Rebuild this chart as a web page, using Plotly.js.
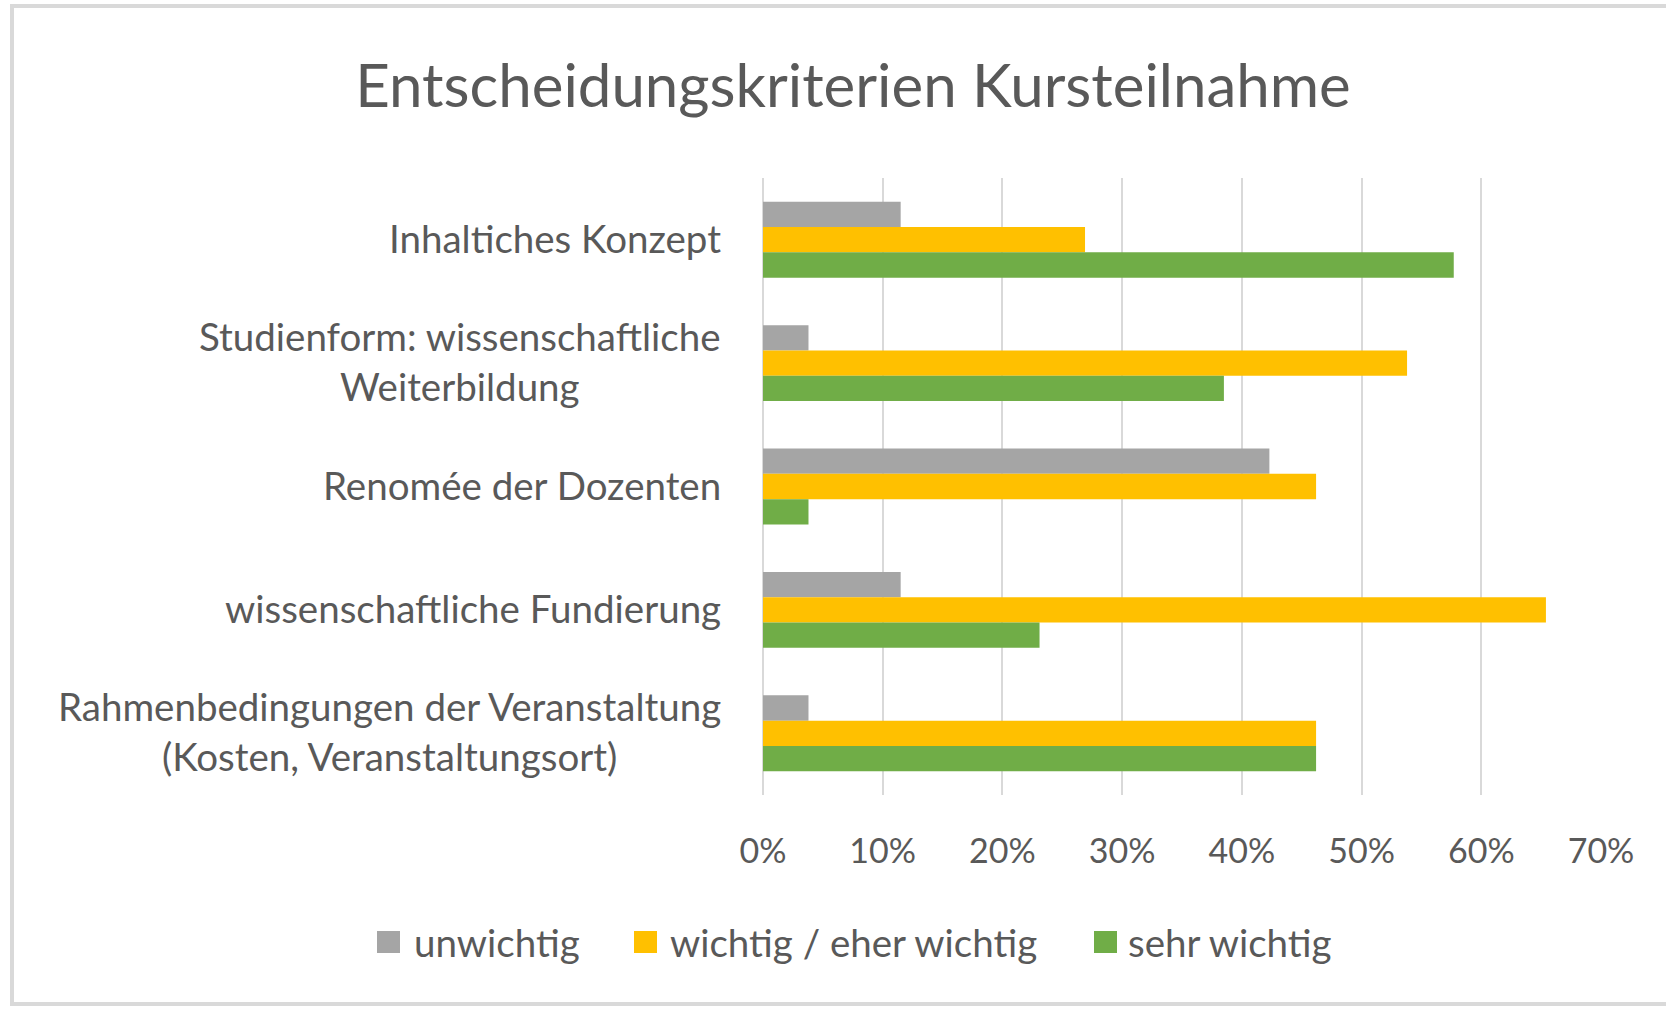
<!DOCTYPE html>
<html>
<head>
<meta charset="utf-8">
<script src="https://cdn.plot.ly/plotly-3.0.1.min.js"></script>
<style>
  html, body { margin: 0; padding: 0; background: #ffffff; }
  #wrap { position: relative; width: 1666px; height: 1011px; }
  #chart { width: 1666px; height: 1011px; }
  #frame { position: absolute; left: 10px; top: 4px; width: 1670px; height: 1002px;
           border: 4px solid #d9d9d9; box-sizing: border-box; pointer-events: none; }
</style>
</head>
<body>
<div id="wrap">
  <div id="chart"></div>
  <div id="frame"></div>
</div>
<script>
// ---- data ----
const categories = [
  "Inhaltiches Konzept",
  "Studienform: wissenschaftliche<br>Weiterbildung",
  "Renomée der Dozenten",
  "wissenschaftliche Fundierung",
  "Rahmenbedingungen der Veranstaltung<br>(Kosten, Veranstaltungsort)"
];
const seriesNames = ["unwichtig", "wichtig / eher wichtig", "sehr wichtig"];
const unwichtig = [0.115, 0.038, 0.423, 0.115, 0.038];
const wichtig = [0.269, 0.538, 0.462, 0.654, 0.462];
const sehrWichtig = [0.577, 0.385, 0.038, 0.231, 0.462];
const tickValues = [0, 0.1, 0.2, 0.3, 0.4, 0.5, 0.6, 0.7];
const tickLabels = ["0%", "10%", "20%", "30%", "40%", "50%", "60%", "70%"];
const chartTitle = "Entscheidungskriterien Kursteilnahme";

// ---- styling ----
const colors = ["#A5A5A5", "#FFC000", "#70AD47"];
const textColor = "#595959";
const fontFamily = "Lato, 'Open Sans', sans-serif";
const seriesValues = [unwichtig, wichtig, sehrWichtig];

// plot area geometry (px)
const W = 1666, H = 1011;
const M = { l: 763, r: 65, t: 178, b: 216 };
const PW = W - M.l - M.r, PH = H - M.t - M.b;
const px2x = px => (px - M.l) / PW;
const py2y = py => (H - M.b - py) / PH;

const traces = seriesValues.map((vals, i) => ({
  type: "bar",
  orientation: "h",
  name: seriesNames[i],
  x: vals,
  y: categories,
  marker: { color: colors[i], line: { width: 0 } },
  hoverinfo: "x+name",
  showlegend: false
}));

const annotations = categories.map(c => ({
  xref: "paper", yref: "y",
  x: 0, y: c,
  xanchor: "right", yanchor: "middle",
  xshift: -40, yshift: 2,
  align: "center",
  showarrow: false,
  text: c,
  font: { family: fontFamily, size: 38.5, color: textColor }
}));

// custom legend (larger swatches like the original)
const legendSwatchLeft = [377, 634, 1094];
const legendTextLeft = [412, 668, 1126];
const legendY = 942;
const shapes = [];
seriesNames.forEach((n, i) => {
  shapes.push({
    type: "rect", xref: "paper", yref: "paper",
    x0: px2x(legendSwatchLeft[i]), x1: px2x(legendSwatchLeft[i] + 23),
    y0: py2y(legendY - 11), y1: py2y(legendY + 11),
    fillcolor: colors[i], line: { width: 0 }
  });
  annotations.push({
    xref: "paper", yref: "paper",
    x: px2x(legendTextLeft[i]), y: py2y(legendY),
    xanchor: "left", yanchor: "middle",
    showarrow: false,
    text: n,
    font: { family: fontFamily, size: 38.5, color: textColor }
  });
});

const layout = {
  width: W, height: H,
  margin: M,
  paper_bgcolor: "#ffffff",
  plot_bgcolor: "#ffffff",
  barmode: "group",
  bargap: 0.385,
  bargroupgap: 0,
  showlegend: false,
  title: {
    text: chartTitle,
    xref: "container", yref: "container",
    x: 853 / W, xanchor: "center",
    y: 1 - 86 / H, yanchor: "middle",
    font: { family: fontFamily, size: 60, color: textColor }
  },
  xaxis: {
    range: [0, 0.7],
    tickvals: tickValues,
    ticktext: tickLabels,
    showgrid: true,
    gridcolor: "#d9d9d9",
    gridwidth: 2,
    zeroline: true,
    zerolinecolor: "#d9d9d9",
    zerolinewidth: 2,
    showline: false,
    ticks: "",
    ticklabelstandoff: 33,
    tickfont: { family: fontFamily, size: 34, color: textColor },
    fixedrange: true
  },
  yaxis: {
    type: "category",
    autorange: "reversed",
    showticklabels: false,
    showgrid: false,
    zeroline: false,
    showline: false,
    ticks: "",
    fixedrange: true
  },
  shapes: shapes,
  annotations: annotations
};

Plotly.newPlot("chart", traces, layout, { displayModeBar: false, staticPlot: true });
</script>
</body>
</html>
